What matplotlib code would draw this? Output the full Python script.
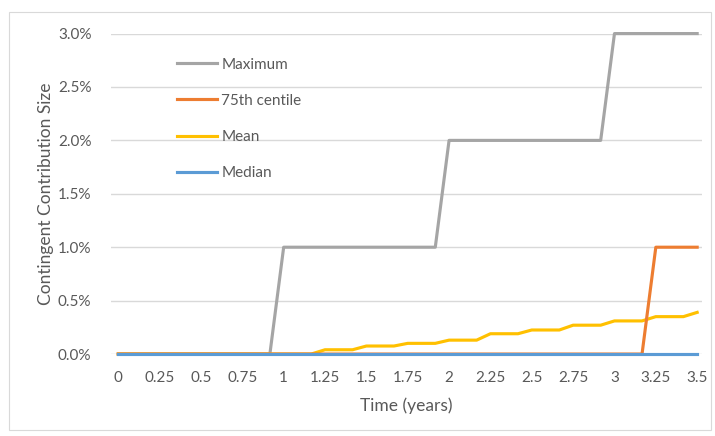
import numpy as np
import matplotlib
matplotlib.use("Agg")
import matplotlib.pyplot as plt
from matplotlib.ticker import PercentFormatter
from matplotlib.patches import Rectangle

plt.rcParams["font.family"] = ["Lato", "DejaVu Sans"]

# monthly time steps, 0 .. 3.5 years
months = np.arange(43)
time = months / 12

# contribution size in percent
maximum = [0.0] * 12 + [1.0] * 12 + [2.0] * 12 + [3.0] * 7
centile75 = [0.0] * 39 + [1.0] * 4
mean = ([0.0] * 15 + [0.04] * 3 + [0.075] * 3 + [0.10] * 3 + [0.13] * 3
        + [0.19] * 3 + [0.225] * 3 + [0.27] * 3 + [0.31] * 3 + [0.35] * 3 + [0.39])
median = [0.0] * 43

xticks = [0, 0.25, 0.5, 0.75, 1, 1.25, 1.5, 1.75, 2, 2.25, 2.5, 2.75, 3, 3.25, 3.5]
xticklabels = ["0", "0.25", "0.5", "0.75", "1", "1.25", "1.5", "1.75", "2",
               "2.25", "2.5", "2.75", "3", "3.25", "3.5"]

txt = "#595959"

fig = plt.figure(figsize=(7.15, 4.36), dpi=100)
fig.patches.append(Rectangle((9 / 715, 1 - 430 / 436), 702 / 715, 418 / 436,
                             transform=fig.transFigure, fill=False,
                             edgecolor="#D9D9D9", lw=0.8))
ax = fig.add_axes([0.155, 0.188, 0.827, 0.735])

l_max, = ax.plot(time, maximum, color="#A5A5A5", lw=2.25, zorder=2, clip_on=False)
l_mean, = ax.plot(time, mean, color="#FFC000", lw=2.25, zorder=3, clip_on=False)
l_75, = ax.plot(time, centile75, color="#ED7D31", lw=2.25, zorder=4, clip_on=False)
l_med, = ax.plot(time, median, color="#5B9BD5", lw=2.25, zorder=5, clip_on=False)

ax.set_xlim(-0.045, 3.53)
ax.set_ylim(0, 3)
ax.set_yticks([0, 0.5, 1, 1.5, 2, 2.5, 3])
ax.yaxis.set_major_formatter(PercentFormatter(xmax=100, decimals=1))
ax.set_xticks(xticks)
ax.set_xticklabels(xticklabels)
ax.tick_params(length=0, labelsize=11, labelcolor=txt)
ax.tick_params(axis="x", pad=12)
ax.tick_params(axis="y", pad=14)
ax.grid(axis="y", color="#D9D9D9", lw=1)
ax.set_axisbelow(True)
for s in ax.spines.values():
    s.set_visible(False)

ax.set_xlabel("Time (years)", fontsize=12.5, color=txt, labelpad=9)
ax.set_ylabel("Contingent Contribution Size", fontsize=12.5, color=txt, labelpad=3)

ax.legend([l_max, l_75, l_mean, l_med], ["Maximum", "75th centile", "Mean", "Median"],
          loc="upper left", bbox_to_anchor=(0.112, 0.925), frameon=False,
          borderpad=0, borderaxespad=0, handlelength=2.6, handletextpad=0.3,
          labelspacing=1.45, prop={"size": 11}, labelcolor=txt)

fig.savefig("out.png", dpi=100)
